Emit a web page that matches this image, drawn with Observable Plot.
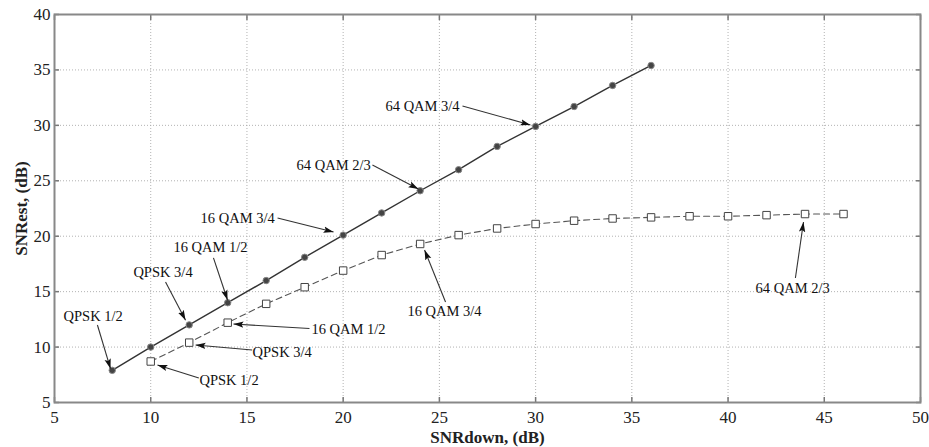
<!DOCTYPE html>
<html>
<head>
<meta charset="utf-8">
<script src="https://cdn.jsdelivr.net/npm/d3@7"></script>
<script src="https://cdn.jsdelivr.net/npm/@observablehq/plot@0.6"></script>
<style>
  html, body { margin: 0; padding: 0; background: #fff; }
  #chart svg { display: block; }
</style>
</head>
<body>
<div id="chart"></div>
<script>
// Series 1 (solid, circles)
const snrDownA = [8, 10, 12, 14, 16, 18, 20, 22, 24, 26, 28, 30, 32, 34, 36];
const snrEstA  = [7.9, 10.0, 12.0, 14.0, 16.0, 18.1, 20.1, 22.1, 24.1, 26.0, 28.1, 29.9, 31.7, 33.6, 35.4];
// Series 2 (dashed, squares)
const snrDownB = [10, 12, 14, 16, 18, 20, 22, 24, 26, 28, 30, 32, 34, 36, 38, 40, 42, 44, 46];
const snrEstB  = [8.7, 10.4, 12.2, 13.9, 15.4, 16.9, 18.3, 19.3, 20.1, 20.7, 21.1, 21.4, 21.6, 21.7, 21.8, 21.8, 21.9, 22.0, 22.0];

const xTicks = [5, 10, 15, 20, 25, 30, 35, 40, 45, 50];
const yTicks = [5, 10, 15, 20, 25, 30, 35, 40];

// Annotation labels (text position, arrow start, arrow tip) in data units
const annLabels = ["QPSK 1/2", "QPSK 3/4", "16 QAM 1/2", "16 QAM 3/4", "64 QAM 2/3", "64 QAM 3/4",
                   "QPSK 1/2", "QPSK 3/4", "16 QAM 1/2", "16 QAM 3/4", "64 QAM 2/3"];
const annTextX = [5.47, 9.1, 11.18, 12.59, 17.58, 22.2, 12.53, 15.29, 18.35, 23.34, 41.43];
const annTextY = [12.8, 16.77, 19.03, 21.65, 26.42, 31.75, 7.03, 9.49, 11.63, 13.19, 15.33];
const arrX1 = [7.23, 10.77, 13.26, 16.59, 21.52, 26.2, 12.5, 15.27, 18.25, 25.32, 43.5];
const arrY1 = [11.99, 15.87, 18.04, 21.65, 26.42, 31.75, 7.21, 9.73, 11.68, 14.07, 16.23];
const arrX2 = [7.91, 11.81, 13.99, 19.5, 23.91, 29.73, 10.35, 12.33, 14.3, 24.23, 43.92];
const arrY2 = [8.05, 12.43, 14.25, 20.38, 24.26, 30.04, 8.38, 10.19, 12.08, 18.76, 21.28];

const seriesA = snrDownA.map((x, i) => ({x, y: snrEstA[i]}));
const seriesB = snrDownB.map((x, i) => ({x, y: snrEstB[i]}));
const ann = annLabels.map((t, i) => ({t, tx: annTextX[i], ty: annTextY[i], x1: arrX1[i], y1: arrY1[i], x2: arrX2[i], y2: arrY2[i]}));

const filledArrow = (color, context) => {
  const doc = (context && context.document) || document;
  const ns = "http://www.w3.org/2000/svg";
  const m = doc.createElementNS(ns, "marker");
  m.setAttribute("viewBox", "-10 -5 10 10");
  m.setAttribute("markerWidth", 10);
  m.setAttribute("markerHeight", 10);
  m.setAttribute("markerUnits", "userSpaceOnUse");
  m.setAttribute("orient", "auto");
  m.setAttribute("refX", 0);
  m.setAttribute("refY", 0);
  const p = doc.createElementNS(ns, "path");
  p.setAttribute("d", "M-10,-3.2L0,0L-10,3.2L-8,0Z");
  p.setAttribute("fill", "#111");
  p.setAttribute("stroke", "none");
  m.appendChild(p);
  return m;
};

const font = "'Liberation Serif', 'Times New Roman', serif";

const chart = Plot.plot({
  width: 929,
  height: 447,
  marginLeft: 54,
  marginRight: 9,
  marginTop: 14,
  marginBottom: 45,
  style: {fontFamily: font, fontSize: "17px", color: "#222", background: "#fff"},
  x: {domain: [5, 50]},
  y: {domain: [5, 40]},
  marks: [
    Plot.gridX(xTicks, {stroke: "#aaa", strokeOpacity: 0.9, strokeDasharray: "1,2"}),
    Plot.gridY(yTicks, {stroke: "#aaa", strokeOpacity: 0.9, strokeDasharray: "1,2"}),
    Plot.axisX(xTicks, {anchor: "bottom", tickSize: 0, tickPadding: 8, fontSize: 17, fill: "#222",
      label: "SNRdown, (dB)", labelAnchor: "center", labelOffset: 40, labelArrow: "none"}),
    Plot.axisY(yTicks, {anchor: "left", tickSize: 0, tickPadding: 4, fontSize: 17, fill: "#222",
      label: "SNRest, (dB)", labelAnchor: "center", labelOffset: 40, labelArrow: "none"}),
    Plot.axisX(xTicks, {anchor: "bottom", tickSize: -5, text: null, stroke: "#777", strokeWidth: 1.5, label: null}),
    Plot.axisX(xTicks, {anchor: "top", tickSize: -5, text: null, stroke: "#777", strokeWidth: 1.5, label: null}),
    Plot.axisY(yTicks, {anchor: "left", tickSize: -5, text: null, stroke: "#777", strokeWidth: 1.5, label: null}),
    Plot.axisY(yTicks, {anchor: "right", tickSize: -5, text: null, stroke: "#777", strokeWidth: 1.5, label: null}),
    Plot.frame({stroke: "#888", strokeWidth: 2}),
    Plot.line(seriesB, {x: "x", y: "y", stroke: "#555", strokeWidth: 1.1, strokeDasharray: "6,4"}),
    Plot.line(seriesA, {x: "x", y: "y", stroke: "#333", strokeWidth: 1.4}),
    Plot.dot(seriesB, {x: "x", y: "y", symbol: "square", r: 4.2, fill: "#fff", stroke: "#444", strokeWidth: 1}),
    Plot.dot(seriesA, {x: "x", y: "y", r: 3.2, fill: "#444", stroke: "#888", strokeWidth: 1}),
    Plot.link(ann, {x1: "x1", y1: "y1", x2: "x2", y2: "y2", stroke: "#333", strokeWidth: 1.1, markerEnd: filledArrow}),
    Plot.text(ann, {x: "tx", y: "ty", text: "t", textAnchor: "start", lineAnchor: "middle", fontSize: 14.5, fill: "#111", fontFamily: font})
  ]
});

chart.querySelectorAll("[aria-label='x-axis label'] text, [aria-label='y-axis label'] text").forEach(t => {
  t.setAttribute("font-weight", "bold");
});
document.getElementById("chart").appendChild(chart);
</script>
</body>
</html>
